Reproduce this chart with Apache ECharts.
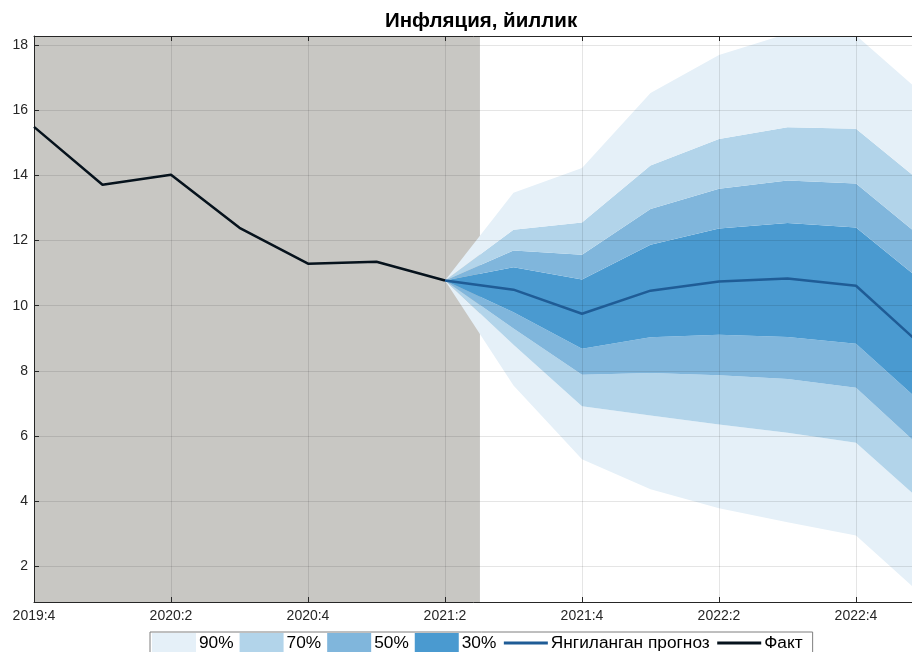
<!DOCTYPE html>
<html>
<head>
<meta charset="utf-8">
<script src="https://cdn.jsdelivr.net/npm/echarts@6/dist/echarts.min.js"></script>
<style>
  html, body { margin: 0; padding: 0; background: #fff; }
  #chart { width: 912px; height: 652px; }
</style>
</head>
<body>
<div id="chart"></div>
<script>
// quarters on the x axis (2023:1 lies just past the right edge)
const quarters = ['2019:4', '2020:1', '2020:2', '2020:3', '2020:4', '2021:1', '2021:2',
  '2021:3', '2021:4', '2022:1', '2022:2', '2022:3', '2022:4', '2023:1']

// fact, 2019:4 .. 2021:2
const fact = [15.49, 13.71, 14.02, 12.39, 11.29, 11.35, 10.77]

// forecast, 2021:2 .. 2023:1
const forecast = [10.77, 10.49, 9.75, 10.46, 10.74, 10.83, 10.61, 8.7]
const lo90 = [10.77, 7.55, 5.28, 4.36, 3.78, 3.35, 2.94, 1.05]
const lo70 = [10.77, 8.8, 6.91, 6.63, 6.35, 6.1, 5.79, 3.91]
const lo50 = [10.77, 9.3, 7.88, 7.93, 7.86, 7.75, 7.48, 5.54]
const lo30 = [10.77, 9.8, 8.68, 9.03, 9.11, 9.04, 8.83, 6.93]
const hi30 = [10.77, 11.18, 10.8, 11.87, 12.37, 12.54, 12.4, 10.69]
const hi50 = [10.77, 11.69, 11.56, 12.97, 13.59, 13.84, 13.75, 12.02]
const hi70 = [10.77, 12.33, 12.55, 14.3, 15.12, 15.48, 15.43, 13.71]
const hi90 = [10.77, 13.47, 14.23, 16.53, 17.7, 18.35, 18.3, 16.45]

// grey "history" shading ends half a quarter after 2021:2
const shadeEnd = 6.51

const bandColors = {
  '90%': '#e5f0f8',
  '70%': '#b2d4ea',
  '50%': '#80b6dc',
  '30%': '#4a9ad0'
}
const gridLine = 'rgba(0,0,0,0.1)'
const axisColor = '#262626'
const font = 'Liberation Sans, Arial, sans-serif'

const offset = fact.length - 1
function pad(arr) {
  const out = quarters.map(() => '-')
  arr.forEach((v, i) => { out[offset + i] = v })
  return out
}
function diff(a, b) {
  return a.map((v, i) => +(v - b[i]).toFixed(3))
}

function band(name, data) {
  return {
    name: name,
    type: 'line',
    stack: 'fan',
    symbol: 'none',
    color: bandColors[name],
    lineStyle: { width: 0, opacity: 0 },
    areaStyle: { color: bandColors[name], opacity: 1 },
    data: pad(data),
    z: 2
  }
}

const chart = echarts.init(document.getElementById('chart'), null, { renderer: 'canvas' })

const option = {
  backgroundColor: '#ffffff',
  animation: false,
  textStyle: { fontFamily: font },
  title: {
    text: 'Инфляция, йиллик',
    left: 385,
    top: 11,
    padding: 0,
    textStyle: { fontSize: 20.5, fontWeight: 'bold', color: '#000', fontFamily: font }
  },
  legend: {
    left: 150,
    top: 632,
    padding: [1, 10, 4, 2],
    borderColor: '#7f7f7f',
    borderWidth: 1,
    backgroundColor: '#fff',
    itemWidth: 44,
    itemHeight: 20,
    itemGap: 6,
    selectedMode: false,
    textStyle: { fontSize: 17.3, color: '#000', fontFamily: font, padding: [0, 0, 0, -2] },
    data: [
      { name: '90%', icon: 'rect' },
      { name: '70%', icon: 'rect' },
      { name: '50%', icon: 'rect' },
      { name: '30%', icon: 'rect' },
      { name: 'Янгиланган прогноз', itemStyle: { opacity: 0 }, lineStyle: { width: 3 } },
      { name: 'Факт', itemStyle: { opacity: 0 }, lineStyle: { width: 3 } }
    ]
  },
  grid: {
    left: 34,
    top: 36,
    right: -12.5,
    bottom: 50,
    containLabel: false,
    outerBoundsMode: 'none'
  },
  xAxis: [{
    type: 'category',
    boundaryGap: false,
    data: quarters,
    position: 'bottom',
    z: 3,
    axisLine: { lineStyle: { color: axisColor, width: 1 } },
    axisTick: { inside: true, length: 5, interval: 1, lineStyle: { color: axisColor } },
    axisLabel: { interval: 1, fontSize: 14, color: axisColor, margin: 7 },
    splitLine: { show: false }
  }, {
    type: 'value',
    position: 'top',
    min: 0,
    max: quarters.length - 1,
    interval: 2,
    z: 3,
    axisLine: { show: true, onZero: false, lineStyle: { color: axisColor, width: 1 } },
    axisTick: { show: true, inside: true, length: 5, lineStyle: { color: axisColor } },
    axisLabel: { show: false },
    splitLine: { show: true, lineStyle: { color: gridLine, width: 1 } }
  }],
  yAxis: {
    type: 'value',
    min: 0.9,
    max: 18.28,
    splitNumber: 9,
    z: 3,
    axisLine: { show: true, lineStyle: { color: axisColor, width: 1 } },
    axisTick: { show: true, inside: true, length: 5, lineStyle: { color: axisColor } },
    axisLabel: { fontSize: 14, color: axisColor, margin: 6, showMinLabel: false, showMaxLabel: false },
    splitLine: { show: true, lineStyle: { color: gridLine, width: 1 } }
  },
  series: [
    {
      name: 'shade',
      type: 'line',
      xAxisIndex: 1,
      data: [],
      z: 1,
      markArea: {
        silent: true,
        itemStyle: { color: '#c8c7c3' },
        data: [[{ xAxis: 0 }, { xAxis: shadeEnd }]]
      }
    },
    {
      name: 'base',
      type: 'line',
      stack: 'fan',
      symbol: 'none',
      lineStyle: { width: 0, opacity: 0 },
      data: pad(lo90),
      z: 2
    },
    band('90%', diff(lo70, lo90)),
    band('70%', diff(lo50, lo70)),
    band('50%', diff(lo30, lo50)),
    band('30%', diff(hi30, lo30)),
    band('50%', diff(hi50, hi30)),
    band('70%', diff(hi70, hi50)),
    band('90%', diff(hi90, hi70)),
    {
      name: 'Янгиланган прогноз',
      type: 'line',
      symbol: 'none',
      color: '#1f5c96',
      lineStyle: { color: '#1f5c96', width: 2.5 },
      data: pad(forecast),
      z: 4
    },
    {
      name: 'Факт',
      type: 'line',
      symbol: 'none',
      color: '#000000',
      lineStyle: { color: '#06121c', width: 2.5 },
      data: fact,
      z: 5
    }
  ]
}

chart.setOption(option)
</script>
</body>
</html>
